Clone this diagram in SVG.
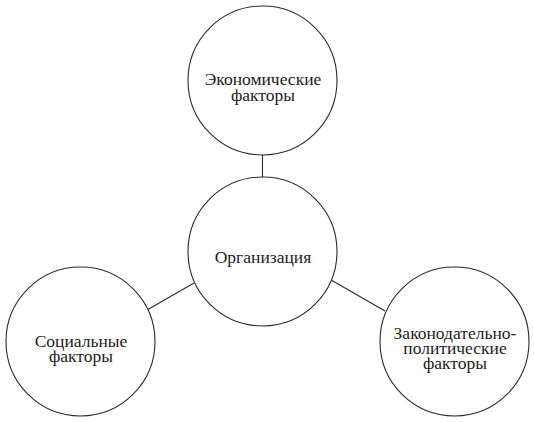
<svg xmlns="http://www.w3.org/2000/svg" width="534" height="422" viewBox="0 0 534 422">
<style>
.node circle{fill:#fff;stroke:#2a2a2a;stroke-width:1.1}
.node text{font-family:"Liberation Serif","DejaVu Serif",serif;font-size:17.5px;fill:#222;text-anchor:middle}
.edges line{stroke:#2a2a2a;stroke-width:1.1}
</style>
<rect width="534" height="422" fill="#fff"/>
<g class="edges" id="connectors">
<line x1="262.5" y1="155" x2="262.5" y2="177"/>
<line x1="194" y1="283" x2="147" y2="310"/>
<line x1="332" y1="280.5" x2="385" y2="311"/>
</g>
<g class="node" id="economic">
<circle cx="262.5" cy="80.5" r="74.5"/>
<text x="263" y="85">Экономические</text>
<text x="263" y="101">факторы</text>
</g>
<g class="node" id="organization">
<circle cx="262.5" cy="251.5" r="74.5"/>
<text x="263" y="263">Организация</text>
</g>
<g class="node" id="social">
<circle cx="80.5" cy="341.5" r="74.5"/>
<text x="81" y="347">Социальные</text>
<text x="81" y="362">факторы</text>
</g>
<g class="node" id="legal">
<circle cx="454.5" cy="341.5" r="74.5"/>
<text x="455" y="339">Законодательно-</text>
<text x="455" y="354">политические</text>
<text x="455" y="369">факторы</text>
</g>
</svg>
